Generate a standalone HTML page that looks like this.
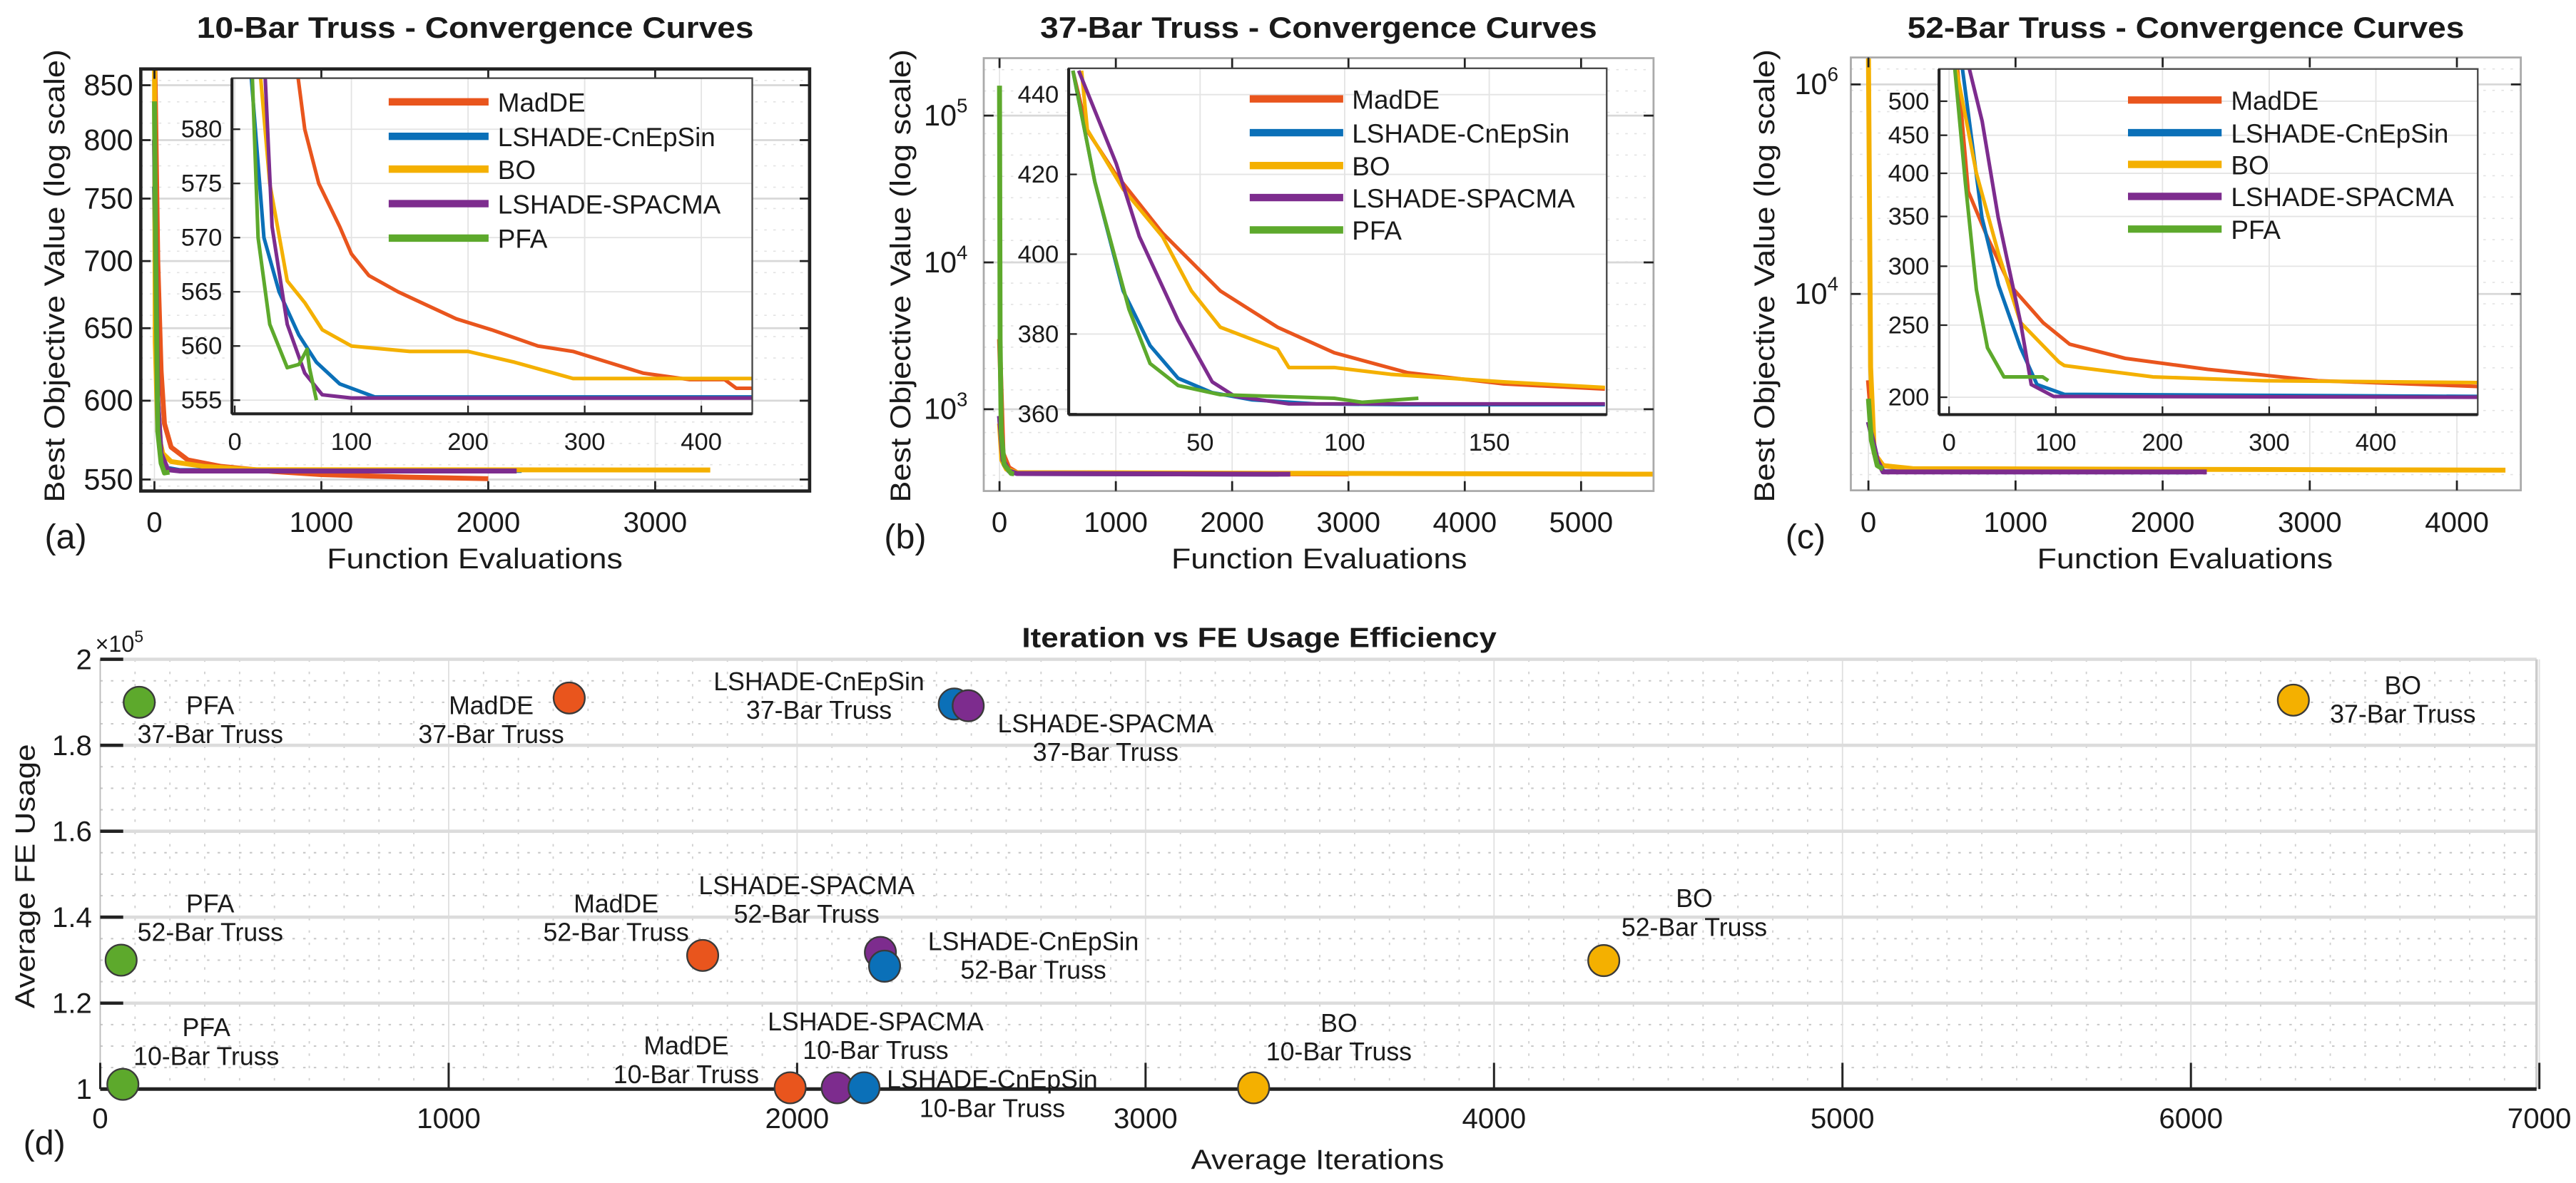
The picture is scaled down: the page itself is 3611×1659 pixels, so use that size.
<!DOCTYPE html>
<html><head><meta charset="utf-8"><style>
html,body{margin:0;padding:0;background:#fff;}
svg{display:block;font-family:"Liberation Sans",Arial,sans-serif;}
</style></head><body>
<svg id="fig" xmlns="http://www.w3.org/2000/svg" width="3611" height="1659" viewBox="0 0 1568 720.4" preserveAspectRatio="none">
<defs>
<clipPath id="cA"><rect x="85.7" y="42" width="407.1" height="257"/></clipPath>
<clipPath id="cAi"><rect x="141.2" y="47.6" width="316.7" height="204.4"/></clipPath>
<clipPath id="cB"><rect x="598.8" y="35.4" width="407.7" height="263.6"/></clipPath>
<clipPath id="cBi"><rect x="650.5" y="41.6" width="327.5" height="210.9"/></clipPath>
<clipPath id="cC"><rect x="1126.6" y="35" width="407.8" height="263.6"/></clipPath>
<clipPath id="cCi"><rect x="1180.3" y="42" width="327.9" height="210.5"/></clipPath>
</defs>
</svg>
<script>
// ---------- data ----------
const seriesNames = ["MadDE","LSHADE-CnEpSin","BO","LSHADE-SPACMA","PFA"];
const seriesColors = ["#E9551D","#0B70B8","#F4B000","#7D2C8E","#5DA92C"];

// Panel (a) main
const aMadX=[0,20,40,60,100,200,400,700,1000,1500,2000];
const aMadY=[900,700,620,585,570,562,558,555,553,551.5,550.5];
const aCnX=[0,20,40,70,150,2200];
const aCnY=[760,600,565,557,555.5,555.5];
const aBoX=[0,5,20,50,100,300,600,3330];
const aBoY=[900,640,580,566,561,558,556,555.8];
const aSpX=[0,20,40,80,150,2170];
const aSpY=[800,600,566,556,555.2,555.2];
const aPfX=[0,8,20,40,60,90];
const aPfY=[835,700,580,560,554,554.5];
// Panel (a) inset
const aiMadX=[54,60,72,90,100,115,140,160,190,220,260,290,320,350,390,420,430,445];
const aiMadY=[585,580,575,571,568.5,566.5,565,564,562.5,561.5,560,559.5,558.5,557.5,556.9,556.9,556.1,556.1];
const aiCnX=[14,25,38,55,70,90,120,445];
const aiCnY=[585,570,565,561,558.5,556.5,555.3,555.3];
const aiBoX=[22,30,45,60,75,100,150,200,240,290,445];
const aiBoY=[585,575,566,564,561.5,560,559.5,559.5,558.5,557,557];
const aiSpX=[26,32,45,60,75,100,445];
const aiSpY=[585,571,562,557.5,555.5,555.2,555.2];
const aiPfX=[15,20,30,45,55,62,64,70];
const aiPfY=[585,570,562,558,558.3,559.7,558,555];

// Panel (b) main
const bMadX=[0,30,80,150,3000];
const bMadY=[3000,500,400,370,362];
const bCnX=[0,30,80,150,2400];
const bCnY=[900,450,380,365,361];
const bBoX=[0,20,60,150,5620];
const bBoY=[800,450,390,370,361];
const bSpX=[0,30,80,150,2500];
const bSpY=[900,450,380,365,361];
const bPfX=[0,5,15,40,100,125];
const bPfY=[160000,3000,700,420,365,363];
// Panel (b) inset
const biMadX=[6,11,20.5,37,57,76.8,96.4,121.8,155,190];
const biMadY=[446,430.9,420.4,405.3,390.8,381.7,375.3,370.3,367.5,366.2];
const biCnX=[6,13.6,23.4,32.7,42.4,54.2,68,90,120,190];
const biCnY=[446,418.1,390.8,377.1,368.9,365.3,363.5,362.5,362.3,362.3];
const biBoX=[9,11,23.4,37,47,57,76.8,80.7,96.4,115.9,155,190];
const biBoY=[446,431.2,416.3,404.4,390.8,381.7,376.2,371.6,371.6,369.9,368,366.6];
const biSpX=[8,21,29,42.4,54.2,62,80.7,190];
const biSpY=[446,422.7,404.4,383.4,368,364.4,362.5,362.5];
const biPfX=[6,13.6,25.4,32.7,42.4,57,96.4,106,125.5];
const biPfY=[446,418.1,386.2,372.6,367.1,364.8,363.9,362.9,363.9];

// Panel (c) main
const cMadX=[0,40,100,300,2000];
const cMadY=[1500,300,230,212,205];
const cCnX=[0,30,60,100,2200];
const cCnY=[600,400,260,201,200];
const cBoX=[0,15,40,100,300,4330];
const cBoY=[2000000,2000,300,230,215,208];
const cSpX=[0,30,60,100,2300];
const cSpY=[600,400,260,200,200];
const cPfX=[0,20,60,100];
const cPfY=[1000,400,230,213];
// Panel (c) inset
const ciMadX=[7.6,18,36,57,88,113,165,242.5,345.7,495];
const ciMadY=[560,378,328,283,252,235.7,225.6,218,210.5,206.8];
const ciCnX=[12,30.8,46.3,67,82.4,108,495];
const ciCnY=[560,349,283,233,208,201.8,200.5];
const ciBoX=[6,25.6,46.3,67,103,108,191,294,495];
const ciBoY=[560,400,312,252,223,220.6,213,210.5,209.3];
const ciSpX=[18,31,46,67,77,98,495];
const ciSpY=[560,470,349,252,208,200.5,200];
const ciPfX=[5,15.3,25.6,36,51.4,87.6,93];
const ciPfY=[560,388,279,233,213,213,210.5];

// Panel (d) scatter
const dMethods=["PFA","MadDE","LSHADE-CnEpSin","LSHADE-SPACMA","BO","PFA","MadDE","LSHADE-SPACMA","LSHADE-CnEpSin","BO","PFA","MadDE","LSHADE-SPACMA","LSHADE-CnEpSin","BO"];
const dProblems=["37-Bar Truss","37-Bar Truss","37-Bar Truss","37-Bar Truss","37-Bar Truss","52-Bar Truss","52-Bar Truss","52-Bar Truss","52-Bar Truss","52-Bar Truss","10-Bar Truss","10-Bar Truss","10-Bar Truss","10-Bar Truss","10-Bar Truss"];
const dIter=[112,1346,2451,2491,6294,60,1729,2239,2251,4315,65,1980,2115,2192,3310];
const dFE=[1.900,1.910,1.896,1.892,1.905,1.300,1.311,1.318,1.286,1.299,1.011,1.003,1.003,1.003,1.003];
const dColorIdx=[4,0,1,3,2,4,0,3,1,2,4,0,3,1,2];
const dLabelX=[128,299,498.5,673,1462.6,128,375,491,629,1031.3,125.6,417.7,533,604,815];
const dLabelY=[434.9,434.9,420.3,445.9,422.7,555.5,555.5,544.5,578.6,552.4,631,642,627.4,662.7,628.3];
const dYTicks=[1,1.2,1.4,1.6,1.8,2];
const dXTicks=[0,1000,2000,3000,4000,5000,6000,7000];

// ---------- helpers ----------
const NS="http://www.w3.org/2000/svg";
const svg=document.getElementById("fig");
function mk(tag,attrs,parent){const e=document.createElementNS(NS,tag);for(const k in attrs)e.setAttribute(k,attrs[k]);(parent||svg).appendChild(e);return e;}
function txt(s,x,y,size,anchor,parent,extra){const t=mk("text",Object.assign({x:x,y:y,"font-size":size,"text-anchor":anchor||"start",fill:"#1a1a1a"},extra||{}),parent);t.textContent=s;return t;}
const L10=Math.log10;

function makePanel(P){
  const g=mk("g",{});
  
  
  mk("rect",{x:P.l,y:P.t,width:P.r-P.l,height:P.b-P.t,fill:"#fff"},g);
  // grid
  const grid=mk("g",{stroke:"#e2e2e2","stroke-width":0.7},g);
  
  
  for(let yy=P.t+7;yy<P.b;yy+=13){mk("line",{x1:P.l,x2:P.r,y1:yy,y2:yy,"stroke-dasharray":"1.5 4"},grid);}
  P.xt.forEach(v=>{const x=P.xs(v);mk("line",{x1:x,x2:x,y1:P.t,y2:P.b},grid);});
  P.yt.forEach(v=>{const y=P.ys(v);mk("line",{x1:P.l,x2:P.r,y1:y,y2:y,stroke:"#d8d8d8","stroke-width":1.2},grid);});
  // curves
  const cg=mk("g",{"clip-path":"url(#"+P.clip+")",fill:"none","stroke-linejoin":"round"},g);
  P.order.forEach(i=>{
    const xs=P.X[i],ys=P.Y[i];
    const d=xs.map((v,k)=>(k?"L":"M")+P.xs(v).toFixed(2)+","+P.ys(ys[k]).toFixed(2)).join("");
    const p=mk("path",{d:d,stroke:seriesColors[i],"stroke-width":3},cg);
    
    
  });
  mk("rect",{x:P.l,y:P.t,width:P.r-P.l,height:P.b-P.t,fill:"none",stroke:P.frame,"stroke-width":P.fw},g);
  // ticks
  P.xt.forEach(v=>{const x=P.xs(v);
    mk("line",{x1:x,x2:x,y1:P.b,y2:P.b-6,stroke:"#222","stroke-width":1.2},g);
    mk("line",{x1:x,x2:x,y1:P.t,y2:P.t+6,stroke:"#222","stroke-width":1.2},g);
    const t=txt(String(v),x,324,17.5,"middle",g);
    
    
  });
  P.yt.forEach((v,k)=>{const y=P.ys(v);
    mk("line",{x1:P.l,x2:P.l+6,y1:y,y2:y,stroke:"#222","stroke-width":1.2},g);
    mk("line",{x1:P.r,x2:P.r-6,y1:y,y2:y,stroke:"#222","stroke-width":1.2},g);
    let t;
    if(P.ypow){t=txt("10",P.ylx-8,y+6,18,"end",g);const s=mk("tspan",{"font-size":12,dy:-8},t);s.textContent=P.ypow[k];}
    else t=txt(String(v),P.ylx,y+6,18,"end",g);
    
    
  });
  const ti=txt(P.title,(P.l+P.r)/2,23,18,"middle",g,{"font-weight":"bold",textLength:339,lengthAdjust:"spacingAndGlyphs"});
  
  
  const xl=txt("Function Evaluations",P.fx,346,17.5,"middle",g,{textLength:180,lengthAdjust:"spacingAndGlyphs"});
  
  
  const yl=txt("Best Objective Value (log scale)",0,0,17.5,"middle",g,{transform:"translate("+(P.ylabx+6)+",168) rotate(-90)",textLength:276,lengthAdjust:"spacingAndGlyphs"});
  
  
  const pl=txt(P.letter,P.lx,334,21,"middle",g);
  
  
  // inset
  const I=P.inset;
  const ig=mk("g",{},g);
  
  
  mk("rect",{x:I.l,y:I.t,width:I.r-I.l,height:I.b-I.t,fill:"#fff"},ig);
  const igr=mk("g",{stroke:"#e4e4e4","stroke-width":0.8},ig);
  I.xt.forEach(v=>{const x=I.xs(v);mk("line",{x1:x,x2:x,y1:I.t,y2:I.b},igr);});
  I.yt.forEach(v=>{const y=I.ys(v);mk("line",{x1:I.l,x2:I.r,y1:y,y2:y},igr);});
  const icg=mk("g",{"clip-path":"url(#"+I.clip+")",fill:"none","stroke-linejoin":"round"},ig);
  P.order.forEach(i=>{
    const xs=I.X[i],ys=I.Y[i];
    const d=xs.map((v,k)=>(k?"L":"M")+I.xs(v).toFixed(2)+","+I.ys(ys[k]).toFixed(2)).join("");
    const p=mk("path",{d:d,stroke:seriesColors[i],"stroke-width":2.2},icg);
    
    
  });
  mk("rect",{x:I.l,y:I.t,width:I.r-I.l,height:I.b-I.t,fill:"none",stroke:"#444","stroke-width":1},ig);
  mk("line",{x1:I.l,x2:I.r,y1:I.b,y2:I.b,stroke:"#222","stroke-width":1.8},ig);
  mk("line",{x1:I.l,x2:I.l,y1:I.t,y2:I.b,stroke:"#222","stroke-width":1.8},ig);
  I.xt.forEach(v=>{const x=I.xs(v);mk("line",{x1:x,x2:x,y1:I.b,y2:I.b-5,stroke:"#222"},ig);
    const t=txt(String(v),x,I.b+22,15,"middle",ig);
    
    });
  I.yt.forEach(v=>{const y=I.ys(v);mk("line",{x1:I.l,x2:I.l+5,y1:y,y2:y,stroke:"#222"},ig);
    const t=txt(String(v),I.l-6,y+5,15,"end",ig);
    
    });
  // legend
  const lg=mk("g",{},ig);
  
  
  seriesNames.forEach((n,i)=>{const y=P.leg.rows[i];
    const ln=mk("line",{x1:P.leg.x1,x2:P.leg.x2,y1:y,y2:y,stroke:seriesColors[i],"stroke-width":4.5},lg);
    
    
    const t=txt(n,P.leg.tx,y+6,16,"start",lg);
    
    
  });
}

// Panel a
makePanel({name:"panel-a",l:85.7,r:492.8,t:42,b:299,clip:"cA",frame:"#222",fw:2,
  xs:v=>94+v*0.1016, ys:v=>292-(L10(v)-L10(550))*1270,
  xt:[0,1000,2000,3000], yt:[550,600,650,700,750,800,850], ylx:81,
  X:[aMadX,aCnX,aBoX,aSpX,aPfX], Y:[aMadY,aCnY,aBoY,aSpY,aPfY], order:[0,1,2,3,4],
  title:"10-Bar Truss - Convergence Curves", fx:289, ylabx:33, letter:"(a)", lx:40,
  inset:{l:141.2,r:457.9,t:47.6,b:252,clip:"cAi",xs:v=>142.9+v*0.71,ys:v=>243.7-(v-555)*6.6,
    xt:[0,100,200,300,400],yt:[555,560,565,570,575,580],
    X:[aiMadX,aiCnX,aiBoX,aiSpX,aiPfX],Y:[aiMadY,aiCnY,aiBoY,aiSpY,aiPfY]},
  leg:{x1:236.6,x2:297.4,tx:303,rows:[62,83,103,124,145]}});
// Panel b
makePanel({name:"panel-b",l:598.8,r:1006.5,t:35.4,b:299,clip:"cB",frame:"#aaa",fw:1.2,
  xs:v=>608.4+v*0.0708, ys:v=>249.2-(L10(v)-3)*89.4,
  xt:[0,1000,2000,3000,4000,5000], yt:[1000,10000,100000], ypow:["3","4","5"], ylx:597,
  X:[bMadX,bCnX,bBoX,bSpX,bPfX], Y:[bMadY,bCnY,bBoY,bSpY,bPfY], order:[0,1,2,3,4],
  title:"37-Bar Truss - Convergence Curves", fx:803, ylabx:548, letter:"(b)", lx:551,
  inset:{l:650.5,r:978,t:41.6,b:252.5,clip:"cBi",xs:v=>642.5+v*1.76,ys:v=>57.6+(440-v)*2.43,
    xt:[50,100,150],yt:[360,380,400,420,440],
    X:[biMadX,biCnX,biBoX,biSpX,biPfX],Y:[biMadY,biCnY,biBoY,biSpY,biPfY]},
  leg:{x1:760.7,x2:817.6,tx:823,rows:[60.2,80.8,100.8,120.3,140]}});
// Panel c
makePanel({name:"panel-c",l:1126.6,r:1534.4,t:35,b:298.6,clip:"cC",frame:"#aaa",fw:1.2,
  xs:v=>1137.3+v*0.08955, ys:v=>179-(L10(v)-4)*63.8,
  xt:[0,1000,2000,3000,4000], yt:[10000,1000000], ypow:["4","6"], ylx:1127,
  X:[cMadX,cCnX,cBoX,cSpX,cPfX], Y:[cMadY,cCnY,cBoY,cSpY,cPfY], order:[0,1,2,3,4],
  title:"52-Bar Truss - Convergence Curves", fx:1330, ylabx:1074, letter:"(c)", lx:1099,
  inset:{l:1180.3,r:1508.2,t:42,b:252.5,clip:"cCi",xs:v=>1186.4+v*0.6495,ys:v=>241.9-(L10(v)-L10(200))*453,
    xt:[0,100,200,300,400],yt:[200,250,300,350,400,450,500],
    X:[ciMadX,ciCnX,ciBoX,ciSpX,ciPfX],Y:[ciMadY,ciCnY,ciBoY,ciSpY,ciPfY]},
  leg:{x1:1295.3,x2:1352.3,tx:1358,rows:[60.9,80.8,100.1,119.6,139.5]}});

// Panel d
(function(){
  const xd=v=>61+v*0.2121, yd=v=>663.2-(v-1)*261.7;
  const L=61,R=1544,T=401.5,B=663.2;
  const g=mk("g",{});
  
  
  const grid=mk("g",{stroke:"#d6d6d6"},g);
  
  
  for(let v=1.05;v<2;v+=0.05){ if(Math.abs((v*10)%2)<0.01) continue; mk("line",{x1:L,x2:R,y1:yd(v),y2:yd(v),"stroke-width":0.9,"stroke-dasharray":"1.5 5",stroke:"#c8c8c8"},grid);}
  for(let v=100;v<7000;v+=100){ if(v%1000===0) continue; mk("line",{x1:xd(v),x2:xd(v),y1:T,y2:B,"stroke-width":0.8,"stroke-dasharray":"1.5 6",stroke:"#d0d0d0"},grid);}
  dXTicks.forEach(v=>{ if(v>0) mk("line",{x1:xd(v),x2:xd(v),y1:T,y2:B,"stroke-width":0.8,stroke:"#e0e0e0"},grid);});
  dYTicks.forEach(v=>{ if(v>1) mk("line",{x1:L,x2:R,y1:yd(v),y2:yd(v),"stroke-width":2,stroke:"#dcdcdc"},grid);});
  mk("line",{x1:L,x2:L,y1:T,y2:B,stroke:"#bbb","stroke-width":0.8},g);
  mk("line",{x1:R,x2:R,y1:T,y2:B,stroke:"#ccc","stroke-width":1.5},g);
  mk("line",{x1:L,x2:R,y1:B,y2:B,stroke:"#222","stroke-width":2.2},g);
  dXTicks.forEach(v=>{const x=xd(v);
    mk("line",{x1:x,x2:x,y1:B,y2:B-16,stroke:"#222","stroke-width":1.3},g);
    const t=txt(String(v),x,687,17.5,"middle",g);
    
    });
  dYTicks.forEach(v=>{const y=yd(v);
    mk("line",{x1:L,x2:L+14,y1:y,y2:y,stroke:"#222","stroke-width":2},g);
    const t=txt(String(v),56,y+6,17.5,"end",g);
    
    });
  const ex=txt("\u00d710",58,397,14,"start",g);
  const es=mk("tspan",{"font-size":10,dy:-6},ex); es.textContent="5";
  
  
  const ti=txt("Iteration vs FE Usage Efficiency",766.5,394,17,"middle",g,{"font-weight":"bold",textLength:289,lengthAdjust:"spacingAndGlyphs"});
  
  
  const xl=txt("Average Iterations",802,712,17,"middle",g,{textLength:154,lengthAdjust:"spacingAndGlyphs"});
  
  
  const yl=txt("Average FE Usage",0,0,17,"middle",g,{transform:"translate(21,533.6) rotate(-90)",textLength:161,lengthAdjust:"spacingAndGlyphs"});
  
  
  const pl=txt("(d)",27,703,21,"middle",g);
  
  
  dIter.forEach((v,i)=>{
    const c=mk("ellipse",{cx:xd(v),cy:yd(dFE[i]),rx:9.5,ry:9.5,fill:seriesColors[dColorIdx[i]],stroke:"#3a3a3a","stroke-width":1},g);
    
    
  });
  dMethods.forEach((m,i)=>{
    const t1=txt(m,dLabelX[i],dLabelY[i],15.5,"middle",g);
    
    
    const t2=txt(dProblems[i],dLabelX[i],dLabelY[i]+17.5,15.5,"middle",g);
    
    
  });
})();
</script>
</body></html>
